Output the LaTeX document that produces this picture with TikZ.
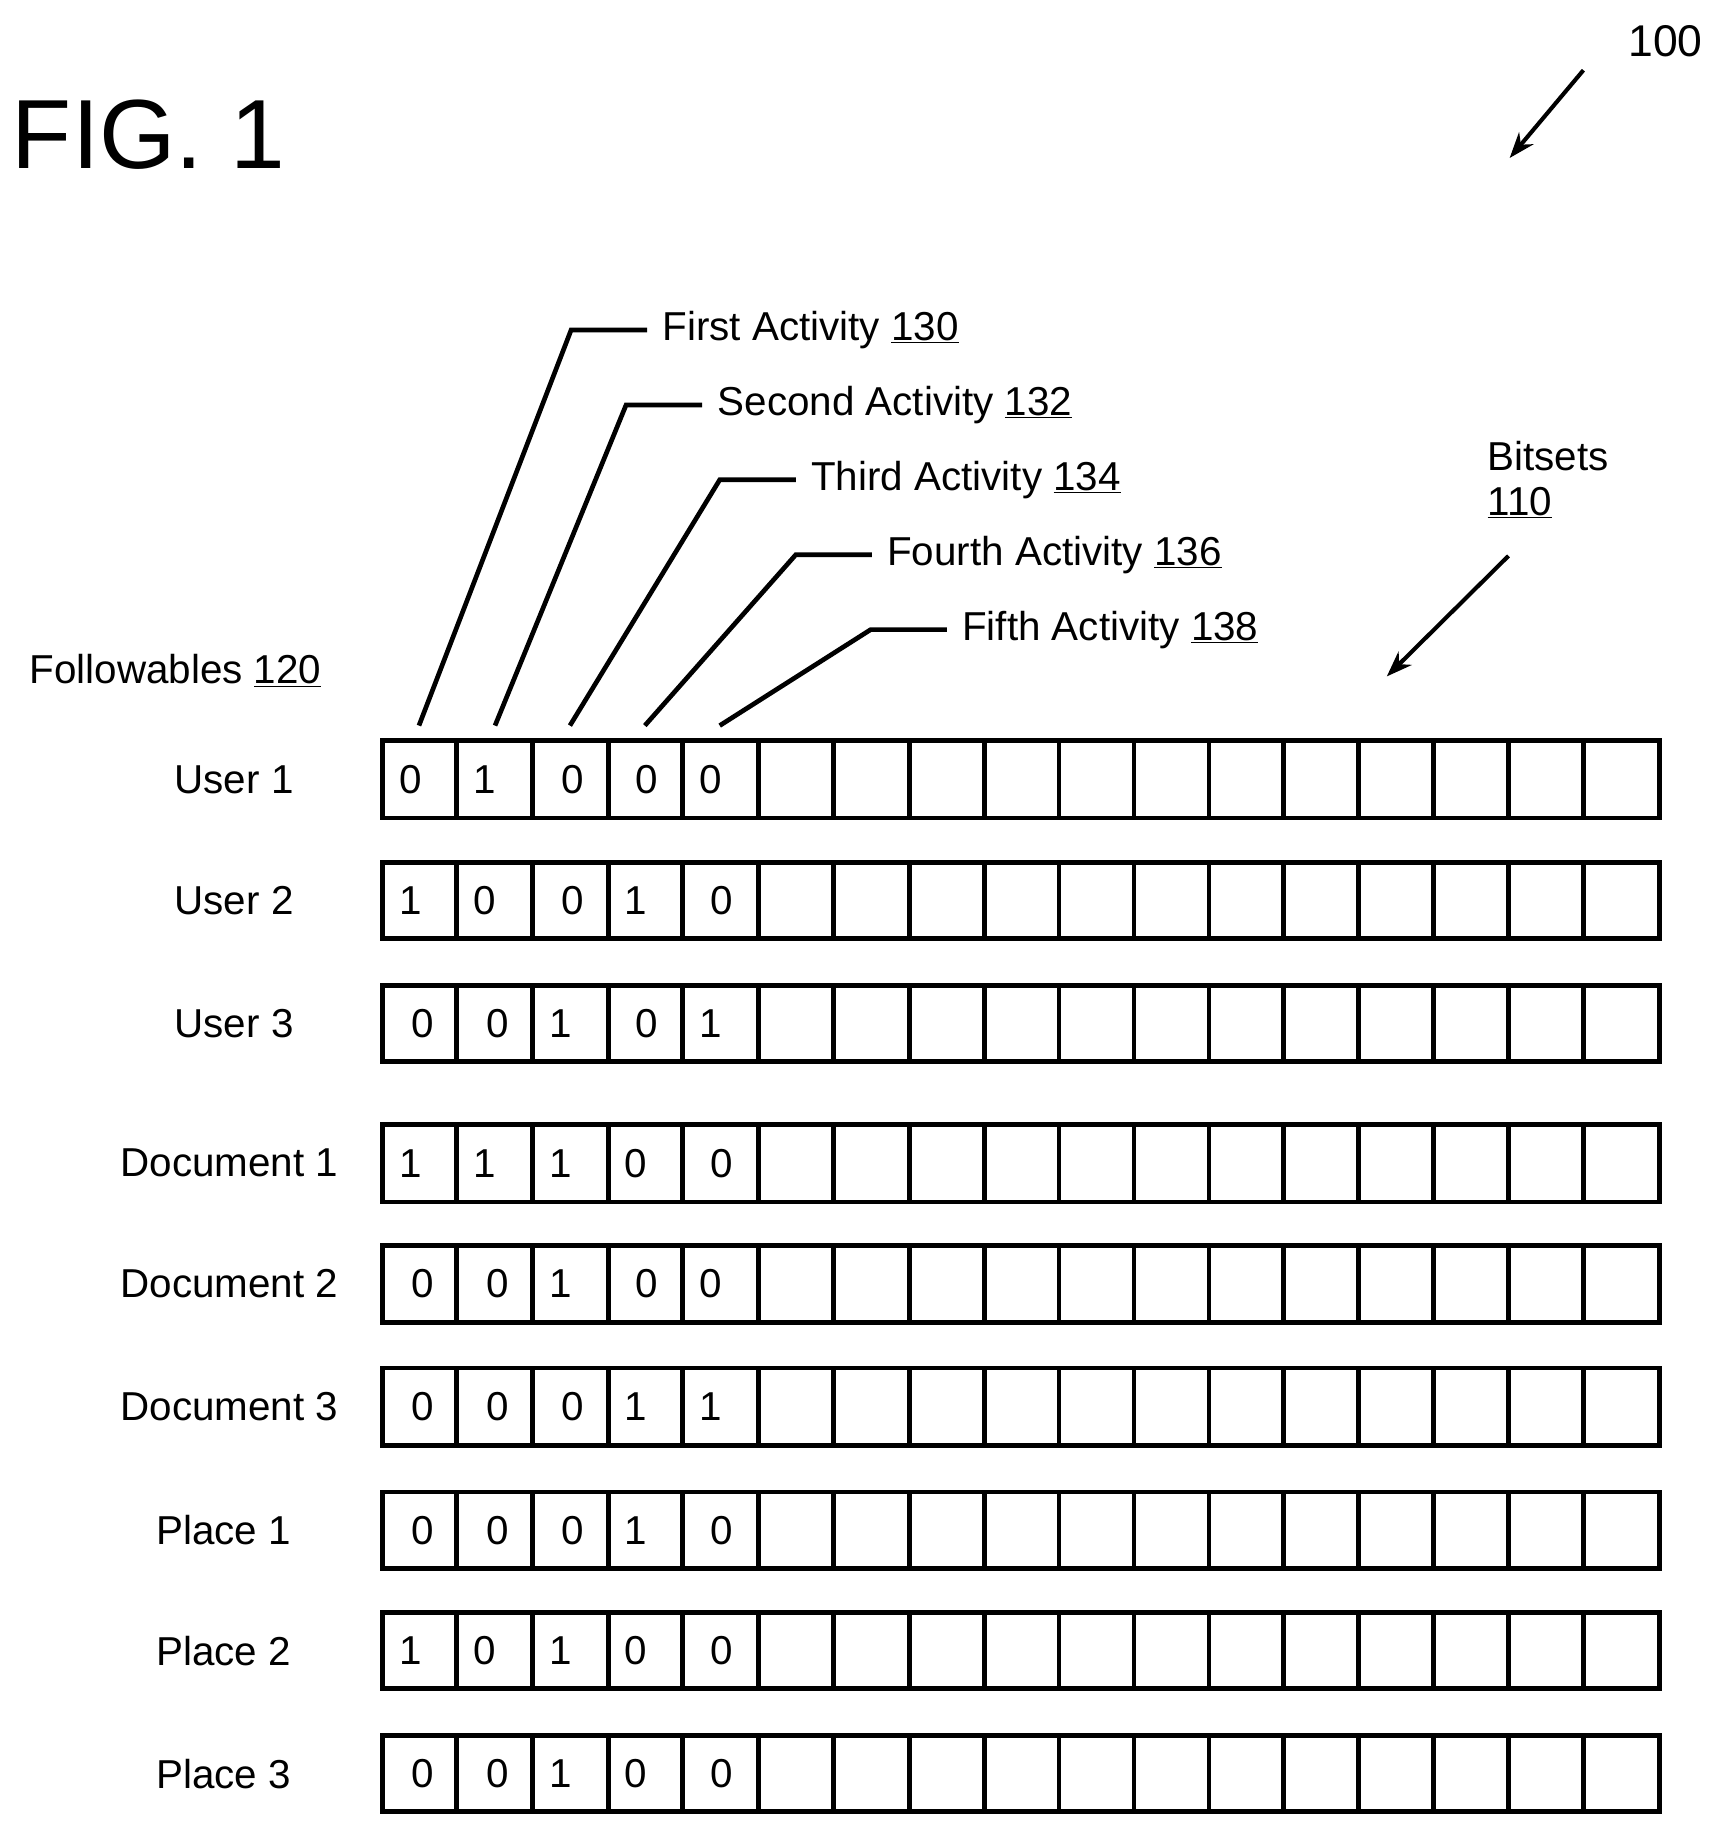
\documentclass[tikz,border=0pt]{standalone}
\usepackage{fontspec}
\setmainfont{Liberation Sans}
\usetikzlibrary{arrows.meta}
\begin{document}
\begin{tikzpicture}[x=1pt,y=-1pt,
  lbl/.style={font=\fontsize{34.5}{38}\selectfont,inner sep=0pt},
  bit/.style={font=\fontsize{34.5}{38}\selectfont,inner sep=0pt},
  lead/.style={line width=4pt},
  arr/.style={line width=3.5pt,-{Stealth[length=22pt,width=16pt]}}]
\useasboundingbox (0,0) rectangle (1470,1568);
\node[anchor=west,font=\fontsize{84}{88}\selectfont,inner sep=0pt] (fig) at (10,115) {FIG. 1};
\node[lbl,anchor=east,font=\fontsize{38}{40}\selectfont] (n100) at (1455,35) {100};
\coordinate (a1) at (1353,60); \coordinate (a2) at (1290,135);
\draw[arr] (a1) -- (a2);
\node[lbl,anchor=west,align=left] (bits) at (1271,410) {Bitsets\\\underline{110}};
\coordinate (b1) at (1289,475); \coordinate (b2) at (1185,578);
\draw[arr] (b1) -- (b2);
\node[lbl] (foll) at (150,573) {Followables \underline{120}};
% activities
\foreach \nm/\x/\kx/\ty/\txt in {f1/358/488/282/First Activity \underline{130},f2/423/535/346/Second Activity \underline{132},f3/487/615/410/Third Activity \underline{134},f4/551/680/474/Fourth Activity \underline{136},f5/615/744/538/Fifth Activity \underline{138}}{
  \node[lbl,anchor=west] (\nm) at (\kx+78,\ty) {\txt};
  \coordinate (\nm s) at (\x,620);
  \coordinate (\nm k) at (\kx,\ty);
  \coordinate (\nm e) at (\kx+65,\ty);
  \draw[lead] (\nm s) -- (\nm k) -- (\nm e);
}
% rows
\foreach \r/\ya/\yb/\name/\lx/\da/\db/\dc/\dd/\de/\pa/\pb/\pc/\pd/\pe in {
 1/633/699/User 1/200/0/1/0/0/0/351/414/489/553/607,
 2/737/802/User 2/200/1/0/0/1/0/351/414/489/543/617,
 3/842/907/User 3/200/0/0/1/0/1/361/425/479/553/607,
 4/961/1027/Document 1/196/1/1/1/0/0/351/414/479/543/617,
 5/1064/1130/Document 2/196/0/0/1/0/0/361/425/479/553/607,
 6/1169/1235/Document 3/196/0/0/0/1/1/361/425/489/543/607,
 7/1275/1340/Place 1/191/0/0/0/1/0/361/425/489/543/617,
 8/1378/1443/Place 2/191/1/0/1/0/0/351/414/479/543/617,
 9/1483/1548/Place 3/191/0/0/1/0/0/361/425/479/543/617}{
  \node[lbl] (L\r) at (\lx,{(\ya+\yb)/2}) {\name};
  \draw[line width=4pt] (327,\ya) rectangle (1418,\yb);
  \foreach \cx in {390,455,520,583,648,712,777,841,905,969,1033,1097,1161,1225,1289,1353}
    \draw[line width=4pt] (\cx,\ya) -- (\cx,\yb);
  \node[bit] (b\r a) at (\pa,{(\ya+\yb)/2}) {\da};
  \node[bit] (b\r b) at (\pb,{(\ya+\yb)/2}) {\db};
  \node[bit] (b\r c) at (\pc,{(\ya+\yb)/2}) {\dc};
  \node[bit] (b\r d) at (\pd,{(\ya+\yb)/2}) {\dd};
  \node[bit] (b\r e) at (\pe,{(\ya+\yb)/2}) {\de};
}
\end{tikzpicture}
\end{document}
